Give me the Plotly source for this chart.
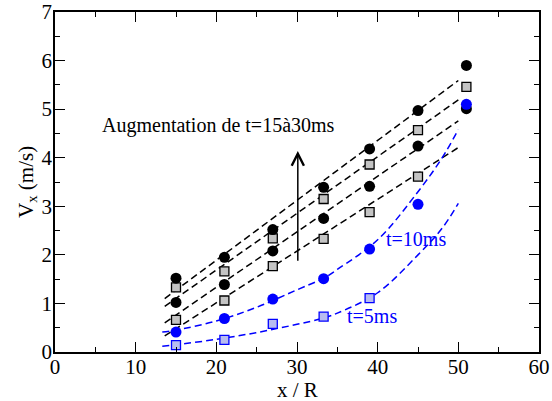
import plotly.graph_objects as go

x_pos = [15, 21, 27, 33.3, 39, 45, 51]

circ_t30 = [1.52, 1.95, 2.52, 3.39, 4.18, 4.97, 5.90]
sq_t25 = [1.33, 1.66, 2.34, 3.15, 3.86, 4.57, 5.46]
circ_t20 = [1.02, 1.39, 2.08, 2.75, 3.41, 4.24, 5.01]
sq_t15 = [0.66, 1.06, 1.77, 2.33, 2.88, 3.61]
circ_t10 = [0.41, 0.69, 1.09, 1.51, 2.12, 3.04, 5.10]
sq_t5 = [0.14, 0.25, 0.58, 0.73, 1.11]

# linear fit lines (black dashed), endpoints
fit_x = [13.6, 50.0]
fit_t30 = [1.10, 5.59]
fit_t25 = [0.94, 5.19]
fit_t20 = [0.60, 4.76]
fit_t15 = [0.33, 4.21]

# blue dashed fit curves
curve_x = [13.3, 15, 20, 25, 30, 33.3, 35, 40, 45, 48, 50]
curve_t10 = [0.41, 0.45, 0.64, 0.92, 1.28, 1.52, 1.70, 2.31, 3.30, 4.00, 4.58]
curve_t5 = [0.12, 0.15, 0.26, 0.40, 0.57, 0.70, 0.80, 1.22, 2.00, 2.55, 3.06]

BLUE = "#0000ff"
FONT = "Liberation Serif"
dash = "7px,4px"

fig = go.Figure()

for yv in [fit_t30, fit_t25, fit_t20, fit_t15]:
    fig.add_trace(go.Scatter(x=fit_x, y=yv, mode="lines",
                             line=dict(color="black", width=1.5, dash=dash),
                             showlegend=False, hoverinfo="skip"))
for yv in [curve_t10, curve_t5]:
    fig.add_trace(go.Scatter(x=curve_x, y=yv, mode="lines",
                             line=dict(color=BLUE, width=1.5, dash=dash, shape="spline"),
                             showlegend=False, hoverinfo="skip"))

def circles(yv, col):
    fig.add_trace(go.Scatter(x=x_pos[:len(yv)], y=yv, mode="markers",
                             marker=dict(symbol="circle", size=11, color=col,
                                         line=dict(width=0)),
                             showlegend=False))

def squares(yv, edge, fill):
    fig.add_trace(go.Scatter(x=x_pos[:len(yv)], y=yv, mode="markers",
                             marker=dict(symbol="square", size=9, color=fill,
                                         line=dict(color=edge, width=1.3)),
                             showlegend=False))

squares(sq_t15, "black", "#c4c4c4")
circles(circ_t20, "black")
squares(sq_t25, "black", "#c4c4c4")
circles(circ_t30, "black")
squares(sq_t5, BLUE, "#b8bcf0")
circles(circ_t10, BLUE)

axis_common = dict(
    showline=True, linecolor="black", linewidth=1.8, mirror="ticks",
    ticks="inside", ticklen=10, tickwidth=1.2, tickcolor="black",
    showgrid=False, zeroline=False, automargin=False,
    tickfont=dict(family=FONT, size=21, color="black"),
)

fig.update_xaxes(range=[0, 60], dtick=10, tick0=0, ticklabelstandoff=-5,
                 minor=dict(ticks="inside", ticklen=5, dtick=5, tickcolor="black", tickwidth=1.2),
                 **axis_common)
fig.update_yaxes(range=[0, 7], dtick=1, tick0=0, ticklabelstandoff=-3,
                 minor=dict(ticks="inside", ticklen=5, dtick=0.5, tickcolor="black", tickwidth=1.2),
                 **axis_common)

# axis titles
fig.add_annotation(x=0.5, y=-0.07, xref="paper", yref="paper", yanchor="top",
                   text="x / R", showarrow=False,
                   font=dict(family=FONT, size=21, color="black"))
fig.add_annotation(x=-0.058, y=0.5, xref="paper", yref="paper", xanchor="center",
                   text="V<sub>x</sub> (m/s)", showarrow=False, textangle=-90,
                   font=dict(family=FONT, size=21, color="black"))

fig.add_annotation(x=30.1, y=4.14, ax=30.1, ay=1.85, xref="x", yref="y",
                   axref="x", ayref="y", showarrow=True, arrowhead=5,
                   arrowsize=1.6, arrowwidth=1.5, arrowcolor="black", text="")
fig.add_annotation(x=20.3, y=4.66, text="Augmentation de t=15à30ms", showarrow=False,
                   font=dict(family=FONT, size=20, color="black"))
fig.add_annotation(x=44.8, y=2.33, text="t=10ms", showarrow=False,
                   font=dict(family=FONT, size=20, color=BLUE))
fig.add_annotation(x=39.3, y=0.74, text="t=5ms", showarrow=False,
                   font=dict(family=FONT, size=20, color=BLUE))

fig.update_layout(width=552, height=401,
                  margin=dict(l=55, r=13, t=12, b=49),
                  plot_bgcolor="white", paper_bgcolor="white")

fig.write_html("out.html", config={"displayModeBar": False},
               post_script="document.body.style.margin='0';document.body.style.overflow='hidden';")
